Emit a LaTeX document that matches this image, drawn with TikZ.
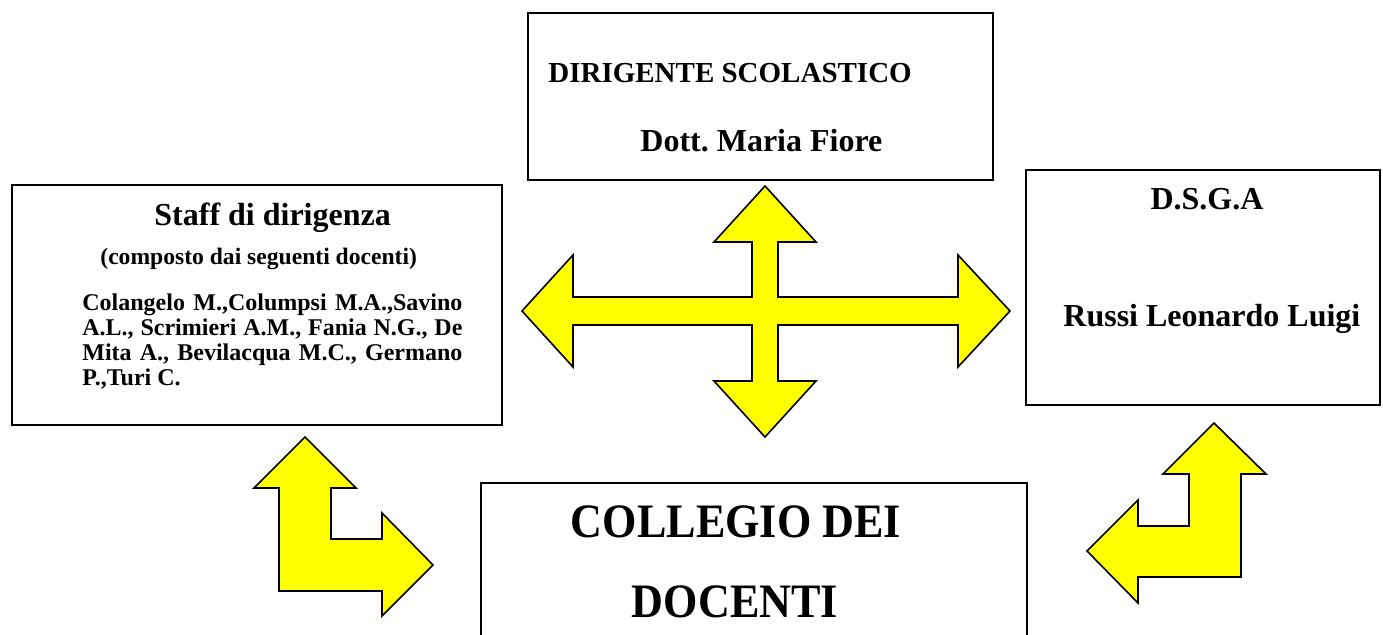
\documentclass[tikz,border=0pt]{standalone}
\usepackage{fontspec}
\setmainfont{Liberation Serif}
\newfontfamily\stretta[FakeStretch=0.92]{Liberation Serif}
\frenchspacing
\definecolor{giallo}{RGB}{255,255,0}

\begin{document}
\begin{tikzpicture}[x=0.5pt,y=-0.5pt,
    riquadro/.style={draw, line width=1pt, inner sep=0pt},
    testo/.style={anchor=base west, inner sep=0pt, font=\bfseries},
    freccia/.style={draw=black, fill=giallo, line width=0.8pt}]
        \clip (0,0) rectangle (1383,635);
        % riquadri
        \node[riquadro, minimum width=232.5pt, minimum height=83.5pt] (ds) at (760.5,96.5) {};
        \node[riquadro, minimum width=245pt, minimum height=120pt] (staff) at (257,305) {};
        \node[riquadro, minimum width=177pt, minimum height=117.5pt] (dsga) at (1203,287.5) {};
        \node[riquadro, minimum width=273pt, minimum height=108.5pt] (collegio) at (754,591.5) {};
        % dirigente
        \node[testo, font=\fontsize{14.5}{16}\selectfont\bfseries] (ds-ruolo) at (548,83) {DIRIGENTE SCOLASTICO};
        \node[testo, font=\fontsize{16}{18}\selectfont\bfseries] (ds-nome) at (640,152) {Dott. Maria Fiore};
        % staff
        \node[testo, font=\fontsize{16}{18}\selectfont\bfseries] (staff-titolo) at (154,226) {Staff di dirigenza};
        \node[testo, font=\fontsize{11.8}{13}\selectfont\bfseries] (staff-sotto) at (100,265) {(composto dai seguenti docenti)};
        \node[testo, text width=190pt, align=justify, font=\fontsize{12}{12.5}\selectfont\bfseries] (staff-nomi) at (82,311)
            {Colangelo M.,Columpsi M.A.,Savino\linebreak A.L., Scrimieri A.M., Fania N.G., De\linebreak Mita A., Bevilacqua M.C., Germano\linebreak P.,Turi C.};
        % dsga
        \node[anchor=base, inner sep=0pt, font=\fontsize{16}{18}\selectfont\bfseries] (dsga-ruolo) at (1207,210) {D.S.G.A};
        \node[testo, font=\fontsize{16}{18}\selectfont\bfseries] (dsga-nome) at (1063,327) {Russi Leonardo Luigi};
        % collegio
        \node[anchor=base, inner sep=0pt, font=\fontsize{24}{28}\stretta\bfseries] (coll-1) at (736,538) {COLLEGIO DEI};
        \node[anchor=base, inner sep=0pt, font=\fontsize{24}{28}\stretta\bfseries] (coll-2) at (735,618) {DOCENTI};
        % freccia a croce
        \draw[freccia] (765,186) -- (816,242) -- (778,242) -- (778,297) -- (958,297) -- (958,255) -- (1010,311)
            -- (958,367) -- (958,325) -- (778,325) -- (778,381) -- (816,381) -- (765,437) -- (714,381)
            -- (752,381) -- (752,325) -- (573,325) -- (573,367) -- (522,311) -- (573,255) -- (573,297)
            -- (752,297) -- (752,242) -- (714,242) -- cycle;
        % frecce ad angolo
        \draw[freccia] (305,437) -- (356,488) -- (331,488) -- (331,539) -- (382,539) -- (382,513) -- (433,565)
            -- (382,616) -- (382,591) -- (279,591) -- (279,488) -- (254,488) -- cycle;
        \draw[freccia] (1214,423) -- (1266,474) -- (1241,474) -- (1241,577) -- (1138,577) -- (1138,603)
            -- (1087,551) -- (1138,500) -- (1138,526) -- (1189,526) -- (1189,474) -- (1163,474) -- cycle;
\end{tikzpicture}
\end{document}
